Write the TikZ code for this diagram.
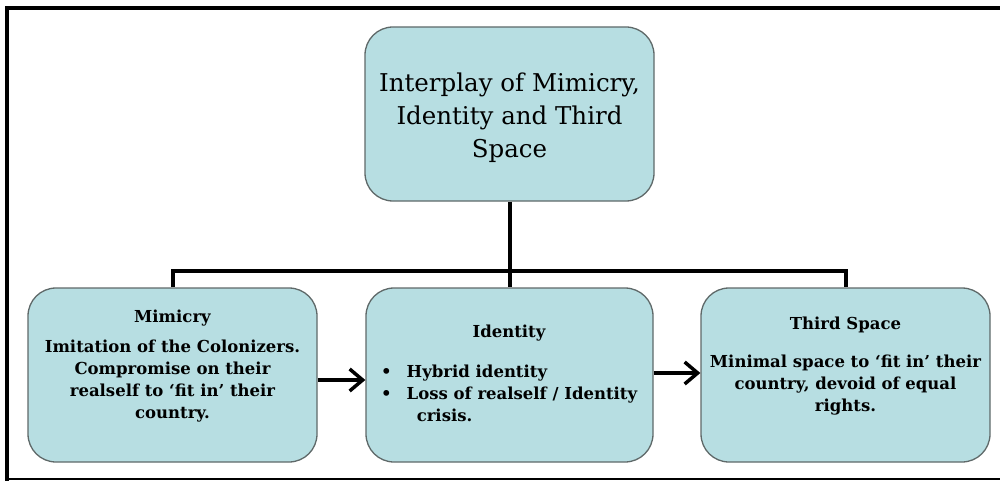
\documentclass[tikz,border=0pt]{standalone}
\usepackage{fontspec}
\setmainfont{DejaVu Serif}
\usetikzlibrary{arrows.meta}
\definecolor{boxfill}{RGB}{183,222,226}
\definecolor{boxline}{RGB}{95,105,105}
\begin{document}
\begin{tikzpicture}[x=1pt,y=-1pt,
  box/.style={draw=boxline, line width=1.3pt, fill=boxfill, rounded corners=28pt, inner sep=0pt, minimum height=174pt},
  conn/.style={line width=4pt},
  arr/.style={line width=3.5pt, -{Straight Barb[length=13pt,width=22pt]}},
  titletext/.style={font=\fontsize{24.5}{33}\selectfont, align=center, inner sep=0pt},
  headtext/.style={font=\bfseries\fontsize{16.5}{22}\selectfont, inner sep=0pt},
  bodytext/.style={font=\bfseries\fontsize{16.5}{22}\selectfont, align=center, inner sep=0pt}]
\useasboundingbox (0,0) rectangle (1000,481);
% frame
\draw[line width=4pt] (7,481) -- (7,8.5) -- (1000,8.5);
\draw[line width=2.5pt] (5,479) -- (1000,479);
% boxes
\node[box, minimum width=289pt] (top) at (509.5,114) {};
\node[box, minimum width=289pt] (mim) at (172.5,375) {};
\node[box, minimum width=287pt] (ident) at (509.5,375) {};
\node[box, minimum width=289pt] (third) at (845.5,375) {};
% connectors
\coordinate (bus) at (509.5,271);
\draw[conn] (top.south) -- (ident.north);
\draw[conn] (mim.north) -- (mim.north |- bus) -- (third.north |- bus) -- (third.north);
\draw[arr] ([yshift=-5pt]mim.east) -- ([yshift=-5pt]ident.west);
\draw[arr] ([yshift=2pt]ident.east) -- ([yshift=2pt]third.west);
% texts
\node[titletext] (tt) at (509.5,117.5) {Interplay of Mimicry,\\Identity and Third\\Space};
\node[headtext] (mh) at (172.5,318) {Mimicry};
\node[bodytext] (mb) at (172.5,381) {Imitation of the Colonizers.\\Compromise on their\\realself to ‘fit in’ their\\country.};
\node[headtext] (ih) at (509,333) {Identity};
\node[inner sep=0pt, anchor=west, font=\bfseries\fontsize{16.5}{22}\selectfont] (ib) at (381,395.5)
  {\begin{tabular}{@{}l@{\hspace{15pt}}l@{}}\textbullet & Hybrid identity\\ \textbullet & Loss of realself / Identity\\ & \hspace{10pt}crisis.\end{tabular}};
\node[headtext] (th) at (845.5,325) {Third Space};
\node[bodytext] (tb) at (845.5,385.5) {Minimal space to ‘fit in’ their\\country, devoid of equal\\rights.};
\end{tikzpicture}
\end{document}
